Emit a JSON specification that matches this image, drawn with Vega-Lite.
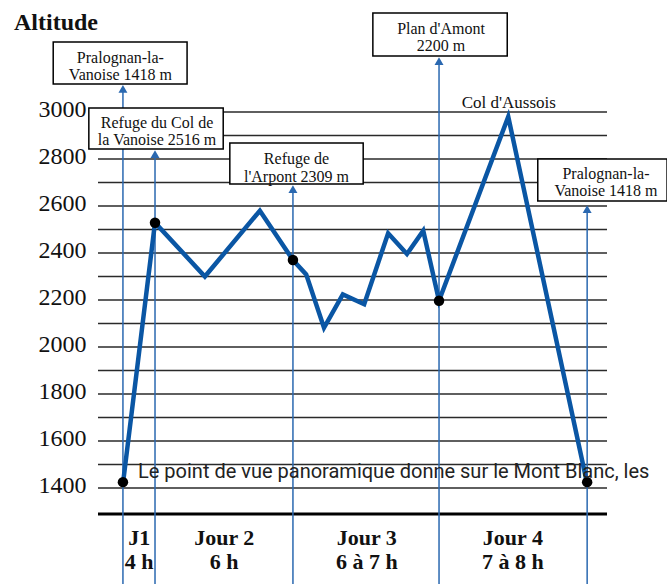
{
  "$schema": "https://vega.github.io/schema/vega-lite/v6.json",
  "width": 509,
  "height": 584,
  "autosize": "none",
  "padding": {"left": 98, "right": 60, "top": 0, "bottom": 0},
  "background": "white",
  "config": {"view": {"stroke": null}},
  "datasets": {
    "grid": [
      {"x": 0, "x2": 100, "alt": 1400}, {"x": 0, "x2": 100, "alt": 1500}, {"x": 0, "x2": 100, "alt": 1600},
      {"x": 0, "x2": 100, "alt": 1700}, {"x": 0, "x2": 100, "alt": 1800}, {"x": 0, "x2": 100, "alt": 1900},
      {"x": 0, "x2": 100, "alt": 2000}, {"x": 0, "x2": 100, "alt": 2100}, {"x": 0, "x2": 100, "alt": 2200},
      {"x": 0, "x2": 100, "alt": 2300}, {"x": 0, "x2": 100, "alt": 2400}, {"x": 0, "x2": 100, "alt": 2500},
      {"x": 0, "x2": 100, "alt": 2600}, {"x": 0, "x2": 100, "alt": 2700}, {"x": 0, "x2": 100, "alt": 2800},
      {"x": 0, "x2": 100, "alt": 2900}, {"x": 0, "x2": 100, "alt": 3000}
    ],
    "base": [{"x": 0, "x2": 100, "alt": 1289}],
    "profile": [
      {"x": 4.9, "alt": 1418}, {"x": 11.2, "alt": 2529}, {"x": 21.0, "alt": 2300},
      {"x": 31.8, "alt": 2580}, {"x": 38.3, "alt": 2370}, {"x": 40.9, "alt": 2309},
      {"x": 44.4, "alt": 2082}, {"x": 48.1, "alt": 2224}, {"x": 52.3, "alt": 2182},
      {"x": 57.0, "alt": 2484}, {"x": 60.7, "alt": 2396}, {"x": 63.9, "alt": 2495},
      {"x": 67.0, "alt": 2197}, {"x": 80.6, "alt": 2980}, {"x": 96.1, "alt": 1418}
    ],
    "stops": [
      {"x": 4.9, "alt": 1425}, {"x": 11.2, "alt": 2529}, {"x": 38.3, "alt": 2370},
      {"x": 67.0, "alt": 2197}, {"x": 96.1, "alt": 1425}
    ],
    "arrows": [
      {"x": 4.9, "alt": 3098, "alt2": 991.5}, {"x": 11.2, "alt": 2821, "alt2": 991.5},
      {"x": 38.3, "alt": 2672, "alt2": 991.5}, {"x": 67.0, "alt": 3217, "alt2": 991.5},
      {"x": 96.1, "alt": 2587, "alt2": 991.5}
    ],
    "boxes": [
      {"x": -8.8, "x2": 17.5, "alt": 3298, "alt2": 3119},
      {"x": -1.8, "x2": 24.6, "alt": 3017, "alt2": 2843},
      {"x": 25.9, "x2": 52.1, "alt": 2868, "alt2": 2694},
      {"x": 54.0, "x2": 80.4, "alt": 3421, "alt2": 3238},
      {"x": 86.4, "x2": 111.8, "alt": 2800, "alt2": 2621}
    ],
    "boxlabels": [
      {"x": 4.4, "alt": 3230, "label": "Pralognan-la-|Vanoise 1418 m"},
      {"x": 11.6, "alt": 2955, "label": "Refuge du Col de|la Vanoise 2516 m"},
      {"x": 39.0, "alt": 2800, "label": "Refuge de|l'Arpont 2309 m"},
      {"x": 67.4, "alt": 3355, "label": "Plan d'Amont|2200 m"},
      {"x": 99.8, "alt": 2738, "label": "Pralognan-la-|Vanoise 1418 m"}
    ],
    "peak": [{"x": 80.7, "alt": 3038, "label": "Col d'Aussois"}],
    "days": [
      {"x": 8.1, "alt": 1187, "label": "J1|4 h"},
      {"x": 24.8, "alt": 1187, "label": "Jour 2|6 h"},
      {"x": 52.8, "alt": 1187, "label": "Jour 3|6 à 7 h"},
      {"x": 81.5, "alt": 1187, "label": "Jour 4|7 à 8 h"}
    ],
    "title": [{"x": -16.5, "alt": 3379, "label": "Altitude"}],
    "note": [{"x": 7.86, "alt": 1442, "label": "Le point de vue panoramique donne sur le Mont Blanc, les"}]
  },
  "encoding": {
    "x": {"field": "x", "type": "quantitative", "scale": {"domain": [0, 100], "nice": false, "zero": false}, "axis": null},
    "y": {"field": "alt", "type": "quantitative", "scale": {"domain": [991.5, 3476.6], "nice": false, "zero": false},
      "axis": {"values": [1400, 1600, 1800, 2000, 2200, 2400, 2600, 2800, 3000], "format": "d", "title": null, "domain": false, "ticks": false, "grid": false,
        "labelFont": "Liberation Serif", "labelFontSize": 24, "labelColor": "#111111", "labelPadding": 12, "labelOffset": -3}}
  },
  "layer": [
    {
      "data": {"name": "grid"},
      "mark": {"type": "rule", "color": "#2a2a2a", "strokeWidth": 1.5},
      "encoding": {"x2": {"field": "x2"}}
    },
    {
      "data": {"name": "base"},
      "mark": {"type": "rule", "color": "#000000", "strokeWidth": 3},
      "encoding": {"x2": {"field": "x2"}}
    },
    {
      "data": {"name": "arrows"},
      "mark": {"type": "rule", "color": "#2a68b0", "strokeWidth": 1.5},
      "encoding": {"y2": {"field": "alt2"}}
    },
    {
      "data": {"name": "arrows"},
      "mark": {"type": "point", "shape": "triangle-up", "filled": true, "color": "#2a68b0", "size": 80, "opacity": 1},
      "encoding": {}
    },
    {
      "data": {"name": "profile"},
      "mark": {"type": "line", "color": "#0a56a4", "strokeWidth": 4.5, "strokeJoin": "miter"},
      "encoding": {}
    },
    {
      "data": {"name": "stops"},
      "mark": {"type": "circle", "color": "#000000", "size": 110, "opacity": 1},
      "encoding": {}
    },
    {
      "data": {"name": "boxes"},
      "mark": {"type": "rect", "fill": "#ffffff", "stroke": "#000000", "strokeWidth": 1.5},
      "encoding": {"x2": {"field": "x2"}, "y2": {"field": "alt2"}}
    },
    {
      "data": {"name": "boxlabels"},
      "mark": {"type": "text", "font": "Liberation Serif", "fontSize": 16, "lineBreak": "|", "lineHeight": 17.5, "align": "center", "baseline": "middle", "color": "#111111"},
      "encoding": {"text": {"field": "label", "type": "nominal"}}
    },
    {
      "data": {"name": "peak"},
      "mark": {"type": "text", "font": "Liberation Serif", "fontSize": 17, "align": "center", "baseline": "middle", "color": "#111111"},
      "encoding": {"text": {"field": "label", "type": "nominal"}}
    },
    {
      "data": {"name": "days"},
      "mark": {"type": "text", "font": "Liberation Serif", "fontSize": 22, "fontWeight": "bold", "lineBreak": "|", "lineHeight": 24, "align": "center", "baseline": "middle", "color": "#111111"},
      "encoding": {"text": {"field": "label", "type": "nominal"}}
    },
    {
      "data": {"name": "title"},
      "mark": {"type": "text", "font": "Liberation Serif", "fontSize": 24, "fontWeight": "bold", "align": "left", "baseline": "middle", "color": "#111111"},
      "encoding": {"text": {"field": "label", "type": "nominal"}}
    },
    {
      "data": {"name": "note"},
      "mark": {"type": "text", "font": "Roboto", "fontSize": 20, "align": "left", "baseline": "alphabetic", "color": "#222222"},
      "encoding": {"text": {"field": "label", "type": "nominal"}}
    }
  ]
}
